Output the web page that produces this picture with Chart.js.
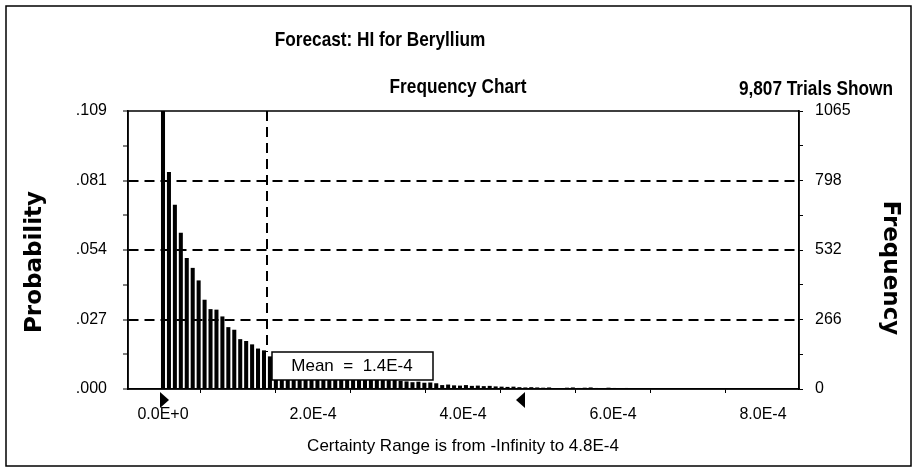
<!DOCTYPE html>
<html>
<head>
<meta charset="utf-8">
<title>Forecast: HI for Beryllium</title>
<script src="https://cdn.jsdelivr.net/npm/chart.js@4.4.0/dist/chart.umd.min.js"></script>
<style>
  html, body { margin: 0; padding: 0; background: #fff; }
  #wrap { width: 914px; height: 476px; }
</style>
</head>
<body>
<div id="wrap"><canvas id="forecastChart" width="914" height="476"></canvas></div>
<script>
// forecast data
const trialsShown = 9807;
const freqMax = 1065;
const binWidth = 7.92e-6;
const meanValue = 1.4e-4;
const certaintyMax = 4.8e-4;

const frequencies = [
    1065, 831, 706, 599, 502, 464, 416, 342, 306, 304,
    278, 237, 227, 191, 184, 171, 155, 148, 125, 120,
    112, 106, 99, 93, 87, 81, 76, 70, 65, 61,
    57, 53, 49, 46, 43, 40, 37, 39, 34, 36,
    31, 29, 26, 28, 24, 25, 22, 15, 17, 14,
    13, 15, 12, 13, 11, 12, 10, 9, 8, 9,
    7, 6, 7, 6, 5, 6, 2, 3, 5, 6,
    4, 5, 6, 4, 3, 5, 4, 3, 4, 2,
    3, 3, 1, 2, 3, 1, 2, 1, 2, 1,
    3, 1, 0, 1, 1, 0, 1, 2, 1, 0,
    1, 1, 0, 1, 0, 1
];

const xTickValues = [0, 1e-4, 2e-4, 3e-4, 4e-4, 5e-4, 6e-4, 7e-4, 8e-4];
const xTickLabels = ['0.0E+0', '', '2.0E-4', '', '4.0E-4', '', '6.0E-4', '', '8.0E-4'];
const probLabels = ['.000', '.027', '.054', '.081', '.109'];
const freqLabels = ['0', '266', '532', '798', '1065'];

const probMax = freqMax / trialsShown;
const tickFont = { family: 'Liberation Sans, Arial, sans-serif', size: 16 };

function eighths(max) {
    const list = [];
    for (let k = 0; k <= 8; k++) list.push({ value: max * k / 8 });
    return list;
}

function everyOther(labels) {
    return function (value, index) {
        return index % 2 === 0 ? labels[index / 2] : '';
    };
}

function squeezedText(ctx, text, x, y, font, squeeze, align) {
    ctx.save();
    ctx.font = font;
    ctx.textAlign = align;
    ctx.textBaseline = 'middle';
    ctx.translate(x, y);
    ctx.scale(squeeze, 1);
    ctx.fillText(text, 0, 0);
    ctx.restore();
}

function rotatedText(ctx, text, x, y, font, angle) {
    ctx.save();
    ctx.font = font;
    ctx.textAlign = 'center';
    ctx.textBaseline = 'middle';
    ctx.translate(x, y);
    ctx.rotate(angle);
    ctx.fillText(text, 0, 0);
    ctx.restore();
}

function triangle(ctx, x, top, h, w) {
    ctx.beginPath();
    ctx.moveTo(x, top);
    ctx.lineTo(x, top + h);
    ctx.lineTo(x + w, top + h / 2);
    ctx.closePath();
    ctx.fill();
}

const decorations = {
    id: 'decorations',
    afterDraw(chart) {
        const ctx = chart.ctx;
        const area = chart.chartArea;
        const x = chart.scales.x;
        ctx.save();
        ctx.fillStyle = '#000';
        ctx.strokeStyle = '#000';

        // outer frame and plot box
        ctx.lineWidth = 1.5;
        ctx.strokeRect(6, 6, 905, 460);
        ctx.strokeRect(area.left, area.top, area.right - area.left, area.bottom - area.top);

        // mean line and label
        const meanX = Math.round(x.getPixelForValue(meanValue)) - 1;
        const boxLeft = meanX + 5;
        const boxTop = area.bottom - 37;
        ctx.lineWidth = 2;
        ctx.setLineDash([10, 6]);
        ctx.beginPath();
        ctx.moveTo(meanX, area.top);
        ctx.lineTo(meanX, boxTop);
        ctx.stroke();
        ctx.setLineDash([]);
        ctx.lineWidth = 1.5;
        ctx.fillStyle = '#fff';
        ctx.fillRect(boxLeft, boxTop, 161, 28);
        ctx.strokeRect(boxLeft, boxTop, 161, 28);
        ctx.fillStyle = '#000';
        ctx.font = '17px Liberation Sans, Arial, sans-serif';
        ctx.textAlign = 'center';
        ctx.textBaseline = 'middle';
        ctx.fillText('Mean  =  1.4E-4', boxLeft + 80, boxTop + 14);

        // certainty range markers
        const startX = x.getPixelForValue(0);
        const endX = x.getPixelForValue(certaintyMax);
        triangle(ctx, startX - 3, area.bottom + 3, 16, 9);
        triangle(ctx, endX + 2, area.bottom + 3, 16, -9);

        // titles
        const bold = 'bold 21px Liberation Sans, Arial, sans-serif';
        squeezedText(ctx, 'Forecast: HI for Beryllium', 380, 40, bold, 0.82, 'center');
        squeezedText(ctx, 'Frequency Chart', 458, 87, bold, 0.82, 'center');
        squeezedText(ctx, '9,807 Trials Shown', 893, 89, bold, 0.82, 'right');

        const axisFont = 'bold 23px DejaVu Sans, sans-serif';
        rotatedText(ctx, 'Probability', 35, 262, axisFont, -Math.PI / 2);
        rotatedText(ctx, 'Frequency', 890, 268, axisFont, Math.PI / 2);

        ctx.font = '17px Liberation Sans, Arial, sans-serif';
        ctx.fillText('Certainty Range is from -Infinity to ' + '4.8E-4', 463, 446);
        ctx.restore();
    }
};

const ctx = document.getElementById('forecastChart').getContext('2d');
const forecastChart = new Chart(ctx, {
    type: 'bar',
    data: {
        datasets: [{
            label: 'Frequency',
            data: frequencies.map(function (f, i) { return { x: i * binWidth, y: f }; }),
            backgroundColor: '#000',
            borderWidth: 0,
            barPercentage: 0.68,
            categoryPercentage: 1,
            yAxisID: 'yR'
        }]
    },
    options: {
        responsive: false,
        animation: false,
        devicePixelRatio: 1,
        layout: { padding: { top: 111 } },
        plugins: {
            legend: { display: false },
            tooltip: { enabled: false },
            title: { display: false }
        },
        scales: {
            x: {
                type: 'linear',
                min: -4.667e-5,
                max: 8.48e-4,
                offset: false,
                afterBuildTicks: function (scale) {
                    scale.ticks = xTickValues.map(function (v) { return { value: v }; });
                },
                afterFit: function (scale) { scale.height = 87; },
                ticks: {
                    callback: function (value, index) { return xTickLabels[index]; },
                    autoSkip: false,
                    maxRotation: 0,
                    color: '#000',
                    font: tickFont,
                    padding: 12
                },
                grid: { drawOnChartArea: false, tickLength: 4, color: '#000' },
                border: { color: '#000', width: 1.5 }
            },
            y: {
                position: 'left',
                min: 0,
                max: probMax,
                afterBuildTicks: function (scale) { scale.ticks = eighths(probMax); },
                afterFit: function (scale) { scale.width = 128; },
                ticks: {
                    callback: everyOther(probLabels),
                    autoSkip: false,
                    color: '#000',
                    font: tickFont,
                    padding: 16
                },
                grid: {
                    color: function (c) {
                        return [2, 4, 6].includes(c.index) ? '#000' : 'rgba(0,0,0,0)';
                    },
                    lineWidth: 2,
                    tickColor: '#000',
                    tickWidth: 1,
                    tickLength: 5
                },
                border: { color: '#000', width: 1.5, dash: [10, 6] }
            },
            yR: {
                position: 'right',
                min: 0,
                max: freqMax,
                afterBuildTicks: function (scale) { scale.ticks = eighths(freqMax); },
                afterFit: function (scale) { scale.width = 115; },
                ticks: {
                    callback: everyOther(freqLabels),
                    autoSkip: false,
                    color: '#000',
                    font: tickFont,
                    padding: 12
                },
                grid: { drawOnChartArea: false, tickLength: 4, color: '#000' },
                border: { color: '#000', width: 1.5 }
            }
        }
    },
    plugins: [decorations]
});
</script>
</body>
</html>
